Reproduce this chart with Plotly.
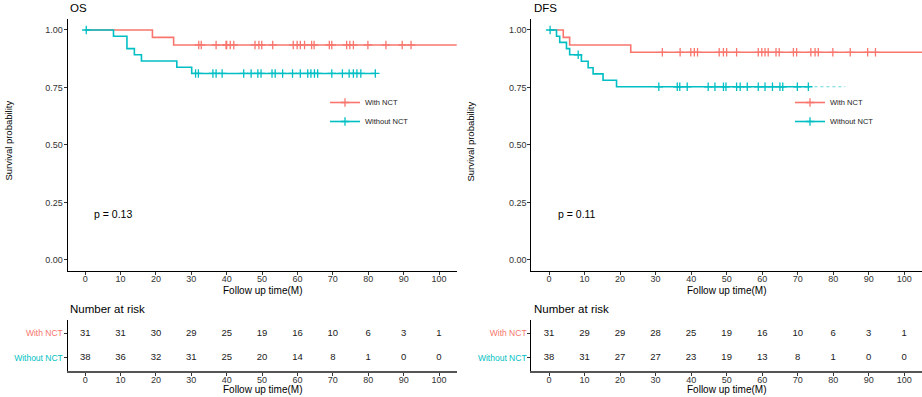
import plotly.graph_objects as go

# ---------------- data ----------------
groups = ["With NCT", "Without NCT"]
colors = ["#F8766D", "#00BFC4"]

# OS
os_with_step_t = [0, 19.0, 25.0]
os_with_step_s = [1.0, 0.968, 0.935]
os_with_end = 106.0
os_with_cens = [32.1, 32.8, 37.0, 39.8, 40.0, 41.0, 42.0, 48.0, 49.1, 49.9, 53.0, 58.8, 59.9,
                60.8, 62.0, 64.0, 64.7, 69.0, 69.7, 73.9, 74.8, 75.8, 79.9, 85.0, 89.6, 92.1]

os_without_step_t = [0, 8.0, 11.8, 13.9, 15.9, 25.9, 30.1]
os_without_step_s = [1.0, 0.973, 0.919, 0.892, 0.865, 0.838, 0.811]
os_without_end = 82.0
os_without_cens = [0.3, 31.2, 32.0, 36.1, 37.0, 38.7, 44.8, 46.9, 48.8, 49.7, 52.8, 53.7, 55.8,
                   58.6, 60.8, 62.9, 63.8, 64.8, 65.7, 69.7, 72.7, 74.6, 75.8, 76.8, 77.9, 82.0]

# DFS
dfs_with_step_t = [0, 4.0, 5.8, 23.0]
dfs_with_step_s = [1.0, 0.968, 0.935, 0.903]
dfs_with_end = 106.0
dfs_with_cens = [31.9, 36.9, 39.9, 40.9, 41.8, 47.9, 49.1, 50.0, 52.8, 58.9, 59.9, 60.8, 61.7,
                 63.9, 64.8, 68.8, 69.7, 73.7, 74.9, 75.8, 79.9, 84.8, 89.7, 91.9]

dfs_without_step_t = [0, 2.1, 3.0, 4.9, 5.8, 9.1, 11.0, 12.4, 15.2, 19.0]
dfs_without_step_s = [1.0, 0.973, 0.946, 0.919, 0.892, 0.864, 0.836, 0.809, 0.781, 0.753]
dfs_without_end = 73.3
dfs_without_cens = [0.3, 8.2, 30.9, 36.1, 36.8, 38.9, 44.8, 46.7, 49.1, 49.8, 52.8, 53.8, 55.8,
                    58.9, 60.8, 62.9, 65.0, 65.8, 69.9, 73.0]
dfs_without_faint = [74.7, 83.4]   # faint dotted tail

p_os = "p = 0.13"
p_dfs = "p = 0.11"

risk_times = [0, 10, 20, 30, 40, 50, 60, 70, 80, 90, 100]
os_risk_with = [31, 31, 30, 29, 25, 19, 16, 10, 6, 3, 1]
os_risk_without = [38, 36, 32, 31, 25, 20, 14, 8, 1, 0, 0]
dfs_risk_with = [31, 29, 29, 28, 25, 19, 16, 10, 6, 3, 1]
dfs_risk_without = [38, 31, 27, 27, 23, 19, 13, 8, 1, 0, 0]

x_ticks = [0, 10, 20, 30, 40, 50, 60, 70, 80, 90, 100]
y_ticks = [0, 0.25, 0.5, 0.75, 1.0]

# ---------------- layout helpers ----------------
W, H = 922, 397
FONT = "Liberation Sans, Arial, sans-serif"


def fx(p):
    return p / W


def fy(p):
    return 1 - p / H


def surv_at(t, st, ss):
    v = ss[0]
    for a, b in zip(st, ss):
        if a <= t:
            v = b
    return v


fig = go.Figure()


def add_km(xa, ya, st, ss, end, cens, color, name, legend):
    fig.add_trace(go.Scatter(
        x=st + [end], y=ss + [ss[-1]], mode="lines", line=dict(color=color, width=1.6, shape="hv"),
        xaxis=xa, yaxis=ya, showlegend=False, hoverinfo="skip"))
    fig.add_trace(go.Scatter(
        x=cens, y=[surv_at(t, st, ss) for t in cens], mode="markers",
        marker=dict(symbol="cross-thin", size=6, line=dict(color=color, width=1.3)),
        xaxis=xa, yaxis=ya, showlegend=False, hoverinfo="skip"))
    fig.add_trace(go.Scatter(
        x=[None], y=[None], mode="lines+markers", name=name,
        line=dict(color=color, width=1.6),
        marker=dict(symbol="cross-thin", size=6, line=dict(color=color, width=1.3)),
        xaxis=xa, yaxis=ya, showlegend=True, legend=legend))


add_km("x", "y", os_with_step_t, os_with_step_s, os_with_end, os_with_cens, colors[0], groups[0], "legend")
add_km("x", "y", os_without_step_t, os_without_step_s, os_without_end, os_without_cens, colors[1], groups[1], "legend")
add_km("x2", "y2", dfs_with_step_t, dfs_with_step_s, dfs_with_end, dfs_with_cens, colors[0], groups[0], "legend2")
add_km("x2", "y2", dfs_without_step_t, dfs_without_step_s, dfs_without_end, dfs_without_cens, colors[1], groups[1], "legend2")
fig.add_trace(go.Scatter(
    x=dfs_without_faint, y=[dfs_without_step_s[-1]] * len(dfs_without_faint), mode="lines",
    line=dict(color=colors[1], width=1.2, dash="dot"), opacity=0.6,
    xaxis="x2", yaxis="y2", showlegend=False, hoverinfo="skip"))

# risk tables
for xa, ya, rw, rwo in [("x3", "y3", os_risk_with, os_risk_without),
                        ("x4", "y4", dfs_risk_with, dfs_risk_without)]:
    fig.add_trace(go.Scatter(
        x=risk_times + risk_times, y=[2] * len(rw) + [1] * len(rwo),
        text=[str(v) for v in rw + rwo], mode="text",
        textfont=dict(family=FONT, size=9.5, color="#1a1a1a"),
        xaxis=xa, yaxis=ya, showlegend=False, hoverinfo="skip"))

# ---------------- axes ----------------
km_left = [fx(67.5), fx(456.7)]
km_right = [fx(531.3), 1.0]
km_y = [fy(271.3), fy(18.5)]
rk_y = [fy(371.0), fy(320.0)]

common_x = dict(range=[-5, 105], tickvals=x_ticks, showline=True, linecolor="black", linewidth=1,
                ticks="outside", ticklen=3, tickcolor="#333", tickwidth=1,
                tickfont=dict(family=FONT, size=9, color="#333"), ticklabelstandoff=-4,
                showgrid=False, zeroline=False, fixedrange=True)
common_ykm = dict(range=[-0.05, 1.05], tickvals=y_ticks, ticktext=[f"{v:.2f}" for v in y_ticks],
                  showline=True, linecolor="black", linewidth=1,
                  ticks="outside", ticklen=3, tickcolor="#333", tickwidth=1,
                  tickfont=dict(family=FONT, size=9, color="#333"), ticklabelstandoff=-1,
                  showgrid=False, zeroline=False, fixedrange=True)
risk_labels = [f'<span style="color:{colors[1]}">{groups[1]}</span>',
               f'<span style="color:{colors[0]}">{groups[0]}</span>']
common_yrk = dict(range=[0.45, 2.55], tickvals=[1, 2], ticktext=risk_labels,
                  showline=True, linecolor="black", linewidth=1,
                  ticks="outside", ticklen=3, tickcolor="#333", tickwidth=1,
                  tickfont=dict(family=FONT, size=8.5), ticklabelstandoff=-1,
                  showgrid=False, zeroline=False, fixedrange=True)
risk_x = dict(common_x)
risk_x.update(linecolor="#555", linewidth=1.5)

fig.update_layout(
    width=W, height=H, margin=dict(l=0, r=0, t=0, b=0),
    paper_bgcolor="white", plot_bgcolor="white",
    font=dict(family=FONT, color="black"),
    xaxis=dict(domain=km_left, anchor="y", **common_x),
    yaxis=dict(domain=km_y, anchor="x", **common_ykm),
    xaxis2=dict(domain=km_right, anchor="y2", **common_x),
    yaxis2=dict(domain=km_y, anchor="x2", **common_ykm),
    xaxis3=dict(domain=km_left, anchor="y3", **risk_x),
    yaxis3=dict(domain=rk_y, anchor="x3", **common_yrk),
    xaxis4=dict(domain=km_right, anchor="y4", **risk_x),
    yaxis4=dict(domain=rk_y, anchor="x4", **common_yrk),
    legend=dict(x=fx(325), y=fy(112), xanchor="left", yanchor="middle",
                font=dict(family=FONT, size=7.5, color="#222"), bgcolor="rgba(0,0,0,0)",
                itemwidth=30, tracegroupgap=0),
    legend2=dict(x=fx(790), y=fy(112), xanchor="left", yanchor="middle",
                 font=dict(family=FONT, size=7.5, color="#222"), bgcolor="rgba(0,0,0,0)",
                 itemwidth=30, tracegroupgap=0),
)

ann = []
# panel titles
ann.append(dict(text="OS", x=fx(67.5), y=fy(8), xanchor="left", yanchor="middle"))
ann.append(dict(text="DFS", x=fx(531.5), y=fy(8), xanchor="left", yanchor="middle"))
ann.append(dict(text="Number at risk", x=fx(67.5), y=fy(309), xanchor="left", yanchor="middle"))
ann.append(dict(text="Number at risk", x=fx(531.5), y=fy(309), xanchor="left", yanchor="middle"))
for a in ann:
    a.update(xref="paper", yref="paper", showarrow=False, font=dict(family=FONT, size=11.5, color="black"))

more = []
for cx in [(67.5 + 456.7) / 2, (531.3 + 922) / 2]:
    more.append(dict(text="Follow up time(M)", x=fx(cx), y=fy(290.5), xanchor="center", yanchor="middle",
                     font=dict(family=FONT, size=10, color="black")))
    more.append(dict(text="Follow up time(M)", x=fx(cx), y=fy(389.5), xanchor="center", yanchor="middle",
                     font=dict(family=FONT, size=10, color="black")))
for cx in [7.5, 469.5]:
    more.append(dict(text="Survival probability", x=fx(cx), y=fy(141), xanchor="center", yanchor="middle",
                     textangle=-90, font=dict(family=FONT, size=9.5, color="black")))
for a in more:
    a.update(xref="paper", yref="paper", showarrow=False)
ann += more

ann.append(dict(text=p_os, x=2, y=0.2, xref="x", yref="y", xanchor="left", yanchor="middle",
                showarrow=False, font=dict(family=FONT, size=10.5, color="black")))
ann.append(dict(text=p_dfs, x=2, y=0.2, xref="x2", yref="y2", xanchor="left", yanchor="middle",
                showarrow=False, font=dict(family=FONT, size=10.5, color="black")))

fig.update_layout(annotations=ann)
fig.write_html("out.html", config={"displayModeBar": False},
               post_script="document.body.style.margin='0';document.body.style.overflow='hidden';")
